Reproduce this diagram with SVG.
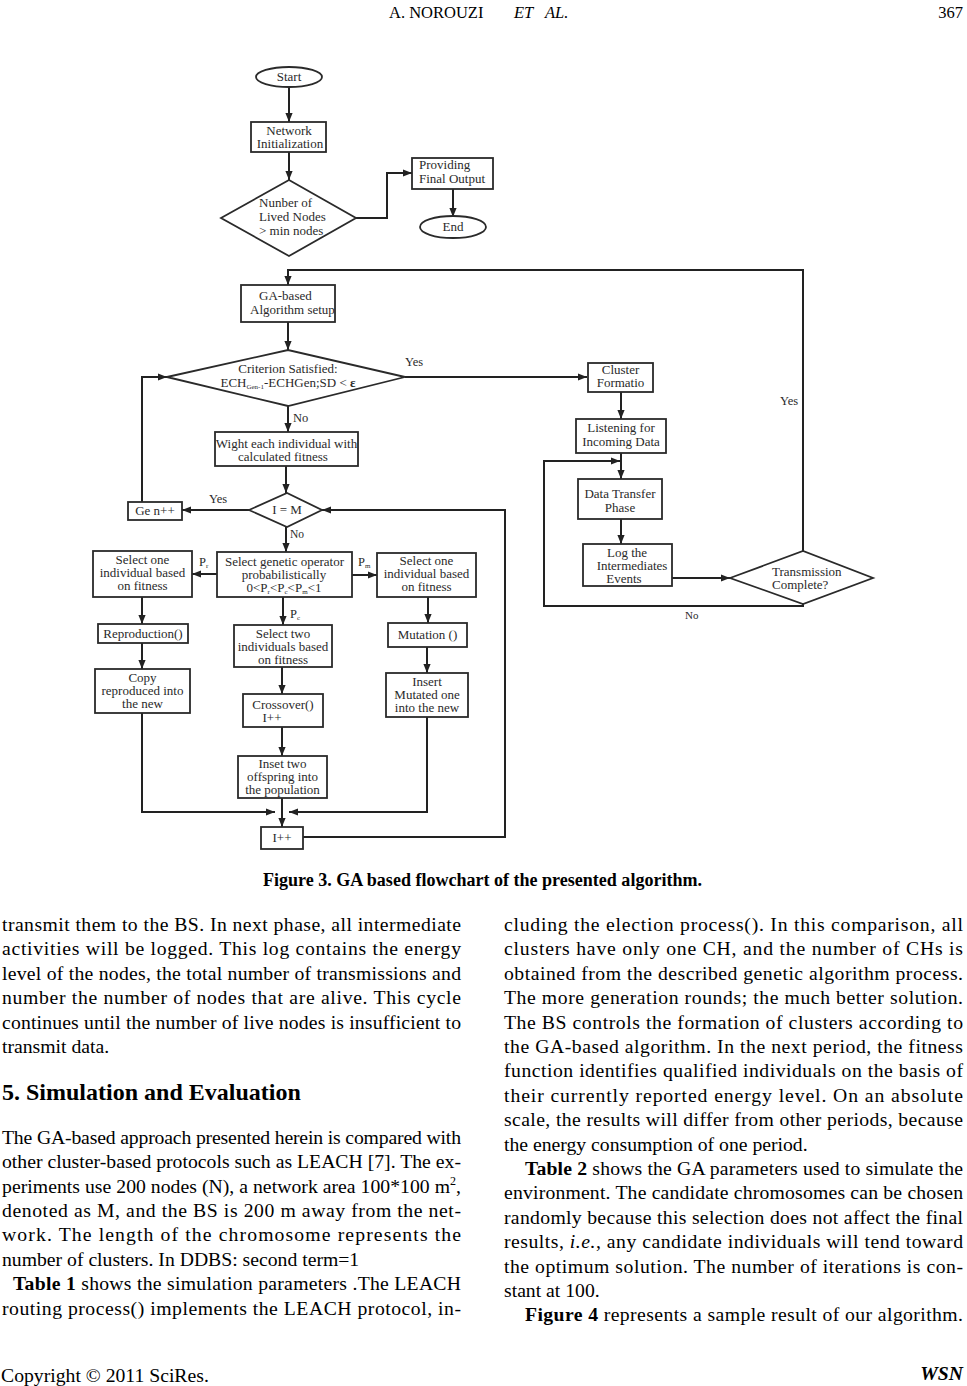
<svg xmlns="http://www.w3.org/2000/svg" width="967" height="1386" viewBox="0 0 967 1386">
<style>
.box{fill:#fff;stroke:#2a2a2a;stroke-width:1.8}
.ln{fill:none;stroke:#222;stroke-width:2}
.ft{font-family:"Liberation Serif","Times New Roman",serif;font-size:13px;fill:#2a2a2a}
.c{text-anchor:middle}
.lb{font-family:"Liberation Serif","Times New Roman",serif;font-size:12.5px;fill:#2a2a2a}
.bd{font-family:"Liberation Serif","Times New Roman",serif;font-size:19.7px;fill:#000}
.hd{font-family:"Liberation Serif","Times New Roman",serif;font-size:16.5px;fill:#000}
</style>
<defs>
<marker id="ah" viewBox="0 0 10 8" refX="10" refY="4" markerWidth="9" markerHeight="8" markerUnits="userSpaceOnUse" orient="auto">
<path d="M0,0 L10,4 L0,8 z" fill="#222"/>
</marker>
</defs>
<rect width="967" height="1386" fill="#fff"/>

<!-- header -->
<g id="header" class="hd">
<text x="389" y="18">A. NOROUZI</text>
<text x="514" y="18" font-style="italic">ET</text>
<text x="545" y="18" font-style="italic">AL.</text>
<text x="963" y="18" text-anchor="end">367</text>
</g>

<!-- connectors -->
<g id="connectors" class="ln" marker-end="url(#ah)">
<path d="M289,87 V122"/>
<path d="M289,152 V180"/>
<path d="M356,218 H387 V173 H412"/>
<path d="M453,189 V217"/>
<path d="M803,551 V270 H288 V285"/>
<path d="M288,322 V350"/>
<path d="M405,377 H587"/>
<path d="M288,406 V432"/>
<path d="M286,466 V493"/>
<path d="M249,510 H182"/>
<path d="M142,502 V377 H167"/>
<path d="M286,527 V552"/>
<path d="M217,574 H192"/>
<path d="M352,575 H377"/>
<path d="M283,597 V625"/>
<path d="M142,597 V624"/>
<path d="M428,597 V623"/>
<path d="M142,643 V669"/>
<path d="M427,647 V673"/>
<path d="M282,667 V694"/>
<path d="M282,727 V756"/>
<path d="M282,798 V827"/>
<path d="M142,713 V812 H275"/>
<path d="M427,717 V812 H289"/>
<path d="M303,837 H505 V510 H322"/>
<path d="M621,392 V419"/>
<path d="M621,453 V479"/>
<path d="M803,604 V606 H544 V461 H620"/>
<path d="M621,519 V544"/>
<path d="M672,578 H730"/>
</g>

<!-- nodes -->
<g id="start"><ellipse class="box" cx="289" cy="77" rx="33" ry="10"/><text class="ft c" x="289" y="81">Start</text></g>
<g id="netinit"><rect class="box" x="251" y="122" width="75" height="30"/><text class="ft c" x="289" y="135">Network</text><text class="ft c" x="290" y="148">Initialization</text></g>
<g id="lived"><polygon class="box" points="221,218 289,180 356,218 289,256"/><text class="ft" x="259" y="207">Nunber of</text><text class="ft" x="259" y="221">Lived Nodes</text><text class="ft" x="259" y="235">&gt; min nodes</text></g>
<g id="providing"><rect class="box" x="412" y="158" width="81" height="31"/><text class="ft" x="419" y="169">Providing</text><text class="ft" x="419" y="183">Final Output</text></g>
<g id="end"><ellipse class="box" cx="453" cy="227" rx="33" ry="11"/><text class="ft c" x="453" y="231">End</text></g>
<g id="gasetup"><rect class="box" x="241" y="285" width="94" height="37"/><text class="ft" x="259" y="300">GA-based</text><text class="ft" x="250" y="314">Algorithm setup</text></g>
<g id="criterion"><polygon class="box" points="167,377 288,350 405,377 288,406"/><text class="ft c" x="288" y="373">Criterion Satisfied:</text><text class="ft c" x="288" y="387">ECH<tspan font-size="7" dy="2">Gen-1</tspan><tspan dy="-2">-ECHGen;SD &lt; </tspan><tspan font-weight="bold">ε</tspan></text></g>
<g id="wight"><rect class="box" x="215" y="432" width="143" height="34"/><text class="ft c" x="286.5" y="448">Wight each individual with</text><text class="ft c" x="283" y="461">calculated fitness</text></g>
<g id="genpp"><rect class="box" x="128" y="502" width="54" height="18"/><text class="ft c" x="155" y="515">Ge n++</text></g>
<g id="ieqm"><polygon class="box" points="249,510 287,493 322,510 287,527"/><text class="ft c" x="287" y="514">I = M</text></g>
<g id="genop"><rect class="box" x="217" y="552" width="135" height="45"/><text class="ft c" x="284.5" y="566">Select genetic operator</text><text class="ft c" x="284" y="579">probabilistically</text><text class="ft c" x="284" y="592">0&lt;P<tspan font-size="7" dy="2">r</tspan><tspan dy="-2">&lt;P</tspan><tspan font-size="7" dy="2">c</tspan><tspan dy="-2">&lt;P</tspan><tspan font-size="7" dy="2">m</tspan><tspan dy="-2">&lt;1</tspan></text></g>
<g id="selectL"><rect class="box" x="93" y="551" width="99" height="46"/><text class="ft c" x="142.5" y="564">Select one</text><text class="ft c" x="142.5" y="577">individual based</text><text class="ft c" x="142.5" y="590">on fitness</text></g>
<g id="selectR"><rect class="box" x="377" y="553" width="99" height="44"/><text class="ft c" x="426.5" y="565">Select one</text><text class="ft c" x="426.5" y="578">individual based</text><text class="ft c" x="426.5" y="591">on fitness</text></g>
<g id="repro"><rect class="box" x="98" y="624" width="90" height="19"/><text class="ft c" x="143" y="638">Reproduction()</text></g>
<g id="mutation"><rect class="box" x="388" y="623" width="79" height="24"/><text class="ft c" x="427.5" y="639">Mutation ()</text></g>
<g id="seltwo"><rect class="box" x="234" y="625" width="98" height="42"/><text class="ft c" x="283" y="638">Select two</text><text class="ft c" x="283" y="651">individuals based</text><text class="ft c" x="283" y="664">on fitness</text></g>
<g id="crossover"><rect class="box" x="243" y="694" width="80" height="33"/><text class="ft c" x="283" y="709">Crossover()</text><text class="ft c" x="272" y="722">I++</text></g>
<g id="inset"><rect class="box" x="238" y="756" width="89" height="42"/><text class="ft c" x="282.5" y="768">Inset two</text><text class="ft c" x="282.5" y="781">offspring into</text><text class="ft c" x="282.5" y="794">the population</text></g>
<g id="ipp"><rect class="box" x="261" y="827" width="42" height="22"/><text class="ft c" x="282" y="842">I++</text></g>
<g id="copy"><rect class="box" x="95" y="669" width="95" height="44"/><text class="ft c" x="142.5" y="682">Copy</text><text class="ft c" x="142.5" y="695" font-size="12">reproduced into</text><text class="ft c" x="142.5" y="708">the new</text></g>
<g id="insert"><rect class="box" x="386" y="673" width="82" height="44"/><text class="ft c" x="427" y="686">Insert</text><text class="ft c" x="427" y="699">Mutated one</text><text class="ft c" x="427" y="712">into the new</text></g>
<g id="cluster"><rect class="box" x="588" y="363" width="65" height="29"/><text class="ft c" x="620.5" y="374">Cluster</text><text class="ft c" x="620.5" y="387">Formatio</text></g>
<g id="listening"><rect class="box" x="576" y="419" width="90" height="34"/><text class="ft c" x="621" y="432">Listening for</text><text class="ft c" x="621" y="446">Incoming Data</text></g>
<g id="datatransfer"><rect class="box" x="578" y="479" width="84" height="40"/><text class="ft c" x="620" y="498">Data Transfer</text><text class="ft c" x="620" y="512">Phase</text></g>
<g id="log"><rect class="box" x="583" y="544" width="89" height="42"/><text class="ft c" x="627" y="557">Log the</text><text class="ft c" x="632" y="570">Intermediates</text><text class="ft c" x="624" y="583">Events</text></g>
<g id="transmission"><polygon class="box" points="730,578 803,551 873,578 803,604"/><text class="ft" x="772" y="576">Transmission</text><text class="ft" x="772" y="589">Complete?</text></g>

<!-- connector labels -->
<g id="labels" class="lb">
<text x="405" y="366">Yes</text>
<text x="780" y="405">Yes</text>
<text x="209" y="503">Yes</text>
<text x="293" y="422">No</text>
<text x="290" y="538" font-size="11.5">No</text>
<text x="685" y="619" font-size="11">No</text>
<text x="199" y="566">P<tspan font-size="7" dy="2">r</tspan></text>
<text x="358" y="566">P<tspan font-size="7" dy="2">m</tspan></text>
<text x="290" y="618">P<tspan font-size="7" dy="2">c</tspan></text>
</g>

<!-- caption -->
<text class="bd" x="263" y="886" font-weight="bold" font-size="18" textLength="439" lengthAdjust="spacingAndGlyphs">Figure 3. GA based flowchart of the presented algorithm.</text>

<!-- left column -->
<g id="leftcol" class="bd">
<text x="2" y="931" textLength="459" lengthAdjust="spacing">transmit them to the BS. In next phase, all intermediate</text>
<text x="2" y="955.4" textLength="459" lengthAdjust="spacing">activities will be logged. This log contains the energy</text>
<text x="2" y="979.8" textLength="459" lengthAdjust="spacing">level of the nodes, the total number of transmissions and</text>
<text x="2" y="1004.2" textLength="459" lengthAdjust="spacing">number the number of nodes that are alive. This cycle</text>
<text x="2" y="1028.6" textLength="459" lengthAdjust="spacing">continues until the number of live nodes is insufficient to</text>
<text x="2" y="1053">transmit data.</text>
<text x="2" y="1100" font-weight="bold" font-size="24">5. Simulation and Evaluation</text>
<text x="2" y="1144" textLength="459" lengthAdjust="spacing">The GA-based approach presented herein is compared with</text>
<text x="2" y="1168.4" textLength="459" lengthAdjust="spacing">other cluster-based protocols such as LEACH [7]. The ex-</text>
<text x="2" y="1192.7" textLength="459" lengthAdjust="spacing">periments use 200 nodes (N), a network area 100*100 m<tspan font-size="12" dy="-8">2</tspan><tspan dy="8">,</tspan></text>
<text x="2" y="1217" textLength="459" lengthAdjust="spacing">denoted as M, and the BS is 200 m away from the net-</text>
<text x="2" y="1241.4" textLength="459" lengthAdjust="spacing">work. The length of the chromosome represents the</text>
<text x="2" y="1265.8">number of clusters. In DDBS: second term=1</text>
<text x="13" y="1290.1" textLength="448" lengthAdjust="spacing"><tspan font-weight="bold">Table 1</tspan> shows the simulation parameters .The LEACH</text>
<text x="2" y="1314.5" textLength="459" lengthAdjust="spacing">routing process() implements the LEACH protocol, in-</text>
</g>

<!-- right column -->
<g id="rightcol" class="bd">
<text x="504" y="931" textLength="459" lengthAdjust="spacing">cluding the election process(). In this comparison, all</text>
<text x="504" y="955.4" textLength="459" lengthAdjust="spacing">clusters have only one CH, and the number of CHs is</text>
<text x="504" y="979.8" textLength="459" lengthAdjust="spacing">obtained from the described genetic algorithm process.</text>
<text x="504" y="1004.2" textLength="459" lengthAdjust="spacing">The more generation rounds; the much better solution.</text>
<text x="504" y="1028.6" textLength="459" lengthAdjust="spacing">The BS controls the formation of clusters according to</text>
<text x="504" y="1053" textLength="459" lengthAdjust="spacing">the GA-based algorithm. In the next period, the fitness</text>
<text x="504" y="1077.4" textLength="459" lengthAdjust="spacing">function identifies qualified individuals on the basis of</text>
<text x="504" y="1101.8" textLength="459" lengthAdjust="spacing">their currently reported energy level. On an absolute</text>
<text x="504" y="1126.2" textLength="459" lengthAdjust="spacing">scale, the results will differ from other periods, because</text>
<text x="504" y="1150.6">the energy consumption of one period.</text>
<text x="525" y="1175" textLength="438" lengthAdjust="spacing"><tspan font-weight="bold">Table 2</tspan> shows the GA parameters used to simulate the</text>
<text x="504" y="1199.4" textLength="459" lengthAdjust="spacing">environment. The candidate chromosomes can be chosen</text>
<text x="504" y="1223.8" textLength="459" lengthAdjust="spacing">randomly because this selection does not affect the final</text>
<text x="504" y="1248.2" textLength="459" lengthAdjust="spacing">results, <tspan font-style="italic">i.e.</tspan>, any candidate individuals will tend toward</text>
<text x="504" y="1272.6" textLength="459" lengthAdjust="spacing">the optimum solution. The number of iterations is con-</text>
<text x="504" y="1297">stant at 100.</text>
<text x="525" y="1321.4" textLength="438" lengthAdjust="spacing"><tspan font-weight="bold">Figure 4</tspan> represents a sample result of our algorithm.</text>
</g>

<!-- footer -->
<g id="footer" class="bd" font-size="17">
<text x="1" y="1382">Copyright © 2011 SciRes.</text>
<text x="963" y="1380" text-anchor="end" font-weight="bold" font-style="italic">WSN</text>
</g>
</svg>
